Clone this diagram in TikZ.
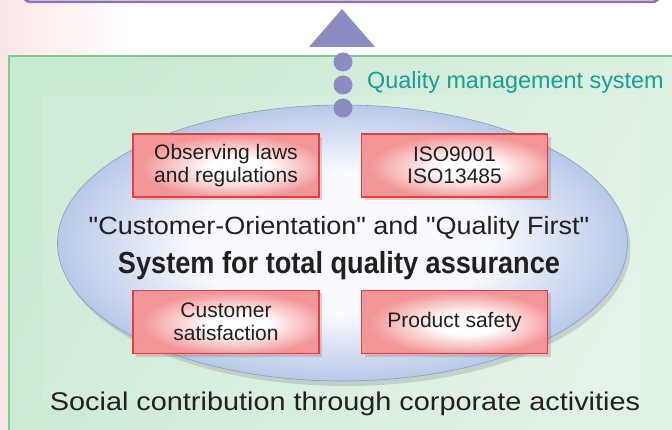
\documentclass[tikz,border=0pt]{standalone}
\usepackage{fontspec}
\setmainfont{Liberation Sans}[Ligatures=TeXOff]
\usetikzlibrary{shadows,shapes.geometric}
\definecolor{purp}{RGB}{138,118,172}
\definecolor{barfill}{RGB}{236,230,244}
\definecolor{dotc}{RGB}{140,140,194}
\definecolor{tealc}{RGB}{22,160,146}
\definecolor{gborder}{RGB}{125,205,140}
\definecolor{gfillA}{RGB}{202,233,211}
\definecolor{gfillB}{RGB}{224,242,228}
\definecolor{ellout}{RGB}{184,200,232}
\definecolor{ellin}{RGB}{248,250,254}
\definecolor{ellline}{RGB}{135,155,198}
\definecolor{boxred}{RGB}{236,58,64}
\definecolor{boxpink}{RGB}{243,150,152}
\definecolor{txt}{RGB}{35,31,32}
\definecolor{pinkbg}{RGB}{251,230,230}
\pgfdeclareradialshading{ellshade}{\pgfpoint{0bp}{0bp}}{color(0bp)=(ellin); color(13bp)=(ellin); color(25bp)=(ellout); color(50bp)=(ellout)}
\pgfdeclareradialshading{boxshade}{\pgfpoint{4bp}{-2bp}}{color(0bp)=(white); color(8bp)=(white); color(25bp)=(boxpink); color(50bp)=(boxpink)}
\begin{document}
\begin{tikzpicture}[x=1pt,y=-1pt,
  rbox/.style={draw=boxred, line width=1.2pt, minimum width=186pt, minimum height=63pt,
    inner sep=0pt, align=center, text=txt, font=\fontsize{21}{22.5}\selectfont,
    shading=boxshade, drop shadow={shadow xshift=3pt, shadow yshift=-3pt, opacity=.3}},
  dot/.style={circle, fill=dotc, minimum size=19pt, inner sep=0pt},
  maintext/.style={text=txt, inner sep=0pt, anchor=base}]
\useasboundingbox (0,0) rectangle (672,430);
\fill[white] (0,0) rectangle (672,430);
% background tints
\shade[left color=pinkbg, right color=white] (0,0) rectangle (130,56);
\fill[pinkbg] (0,56) rectangle (9,430);
% purple bar
\draw[purp, line width=2.5pt, fill=barfill, rounded corners=8pt] (23,-40) rectangle (660,2);
% green panel
\shade[left color=gfillA, right color=gfillB, shading angle=60] (9,56) rectangle (676,434);
\draw[gborder, line width=1.2pt] (676,56) -- (9,56) -- (9,434);
\fill[white, opacity=.12] (43,95) rectangle (640,400);
% triangle
\coordinate (tl) at (309,47);
\coordinate (tt) at (342,9);
\coordinate (tr) at (375,47);
\fill[dotc] (tl) -- (tt) -- (tr) -- cycle;
% ellipse
\node[ellipse, minimum width=570pt, minimum height=276pt, inner sep=0pt, shading=ellshade,
  draw=ellline, line width=0.6pt,
  drop shadow={shadow xshift=3pt, shadow yshift=-5pt, opacity=.28}] (ell) at (342.5,243) {};
% dots
\node[dot] (d1) at (343,62) {};
\node[dot] (d2) at (343,85) {};
\node[dot] (d3) at (343,108) {};
\node[anchor=base west, text=tealc, inner sep=0pt, font=\fontsize{23.4}{23.4}\selectfont] (qms) at (367,89) {Quality management system};
% boxes
\node[rbox] (b1) at (226,165.5) {Observing laws\\and regulations};
\node[rbox] (b2) at (454.5,165.5) {ISO9001\\ISO13485};
\node[rbox] (b3) at (226,322) {Customer\\satisfaction};
\node[rbox] (b4) at (454.5,322) {Product safety};
% texts
\node[maintext, xscale=1.08, font=\fontsize{25}{25}\selectfont] (co) at (339,235) {"Customer-Orientation" and "Quality First"};
\node[maintext, xscale=0.89, font=\fontsize{30.5}{30.5}\selectfont\bfseries] (sys) at (339,274) {System for total quality assurance};
\node[maintext, xscale=1.127, font=\fontsize{25.6}{25.6}\selectfont] (soc) at (345,410) {Social contribution through corporate activities};
\end{tikzpicture}
\end{document}
